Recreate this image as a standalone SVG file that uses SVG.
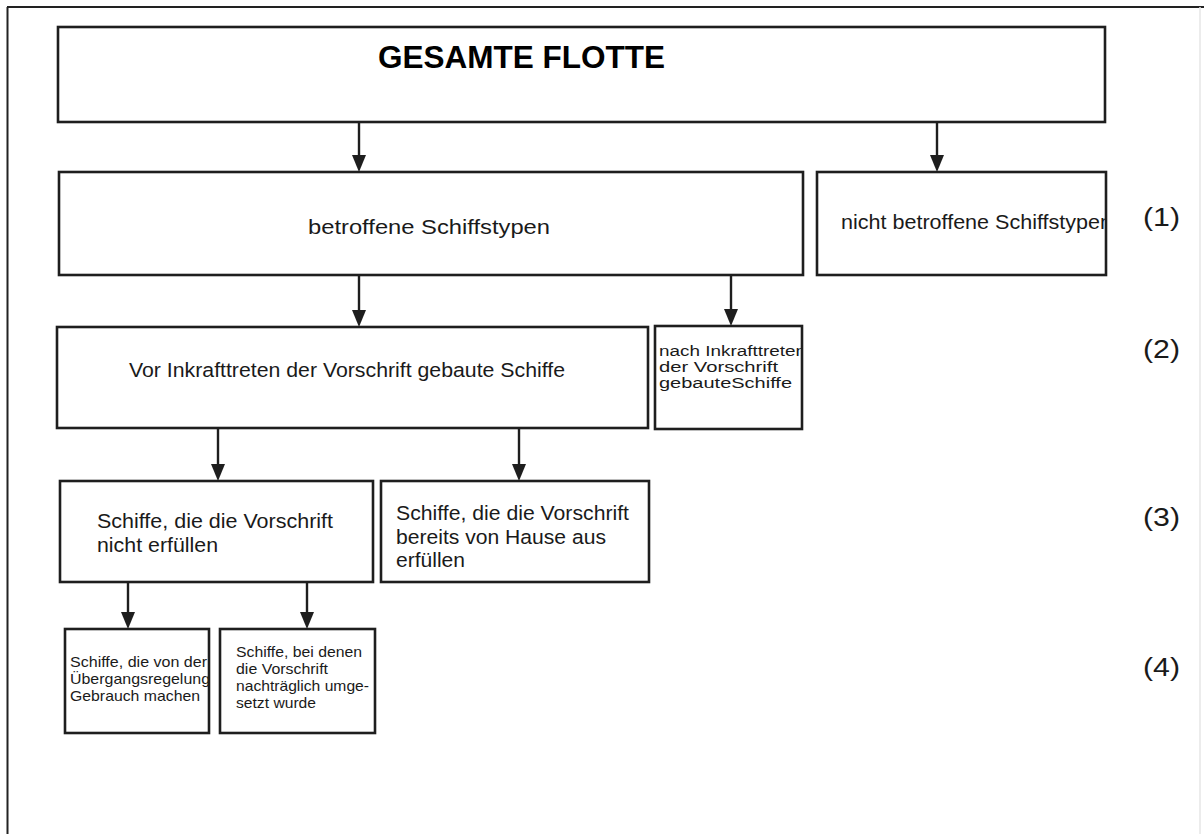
<svg xmlns="http://www.w3.org/2000/svg" width="1204" height="834" viewBox="0 0 1204 834">
<style>
.box{fill:#fff;stroke:#1e1e1e;stroke-width:2.6}
.t{font-family:"Liberation Sans",Arial,sans-serif;fill:#1a1a1a}
.b{font-weight:bold;fill:#000}
.conn line{stroke:#1e1e1e;stroke-width:2.4}
.conn polygon{fill:#1e1e1e}
.frame{stroke:#222;stroke-width:2;fill:none}
</style>
<defs>
<clipPath id="c1"><rect x="817" y="172" width="288" height="103"/></clipPath>
<clipPath id="c2"><rect x="655" y="326" width="146" height="103"/></clipPath>
<clipPath id="c3"><rect x="65" y="629" width="143" height="104"/></clipPath>
</defs>
<rect width="1204" height="834" fill="#fff"/>
<g id="frame">
<line class="frame" x1="7" y1="7" x2="1204" y2="7"/>
<line class="frame" x1="7.5" y1="7" x2="7.5" y2="834"/>
<line x1="1200" y1="7" x2="1200" y2="834" stroke="#e6e6e6" stroke-width="1.5"/>
</g>
<g id="n-gesamt">
<rect class="box" x="58" y="27" width="1047" height="95"/>
<text class="t b" x="378" y="68" font-size="32" textLength="287" lengthAdjust="spacingAndGlyphs">GESAMTE FLOTTE</text>
</g>
<g id="n-betroffen">
<rect class="box" x="59" y="172" width="744" height="103"/>
<text class="t" x="308" y="234" font-size="21" textLength="242" lengthAdjust="spacingAndGlyphs">betroffene Schiffstypen</text>
</g>
<g id="n-nichtbetroffen">
<rect class="box" x="817" y="172" width="289" height="103"/>
<text class="t" x="841" y="229" font-size="20" textLength="271" lengthAdjust="spacingAndGlyphs" clip-path="url(#c1)">nicht betroffene Schiffstypen</text>
</g>
<g id="n-vor">
<rect class="box" x="57" y="327" width="591" height="101"/>
<text class="t" x="129" y="377" font-size="20.5" textLength="436" lengthAdjust="spacingAndGlyphs">Vor Inkrafttreten der Vorschrift gebaute Schiffe</text>
</g>
<g id="n-nach">
<rect class="box" x="655" y="326" width="147" height="103"/>
<g clip-path="url(#c2)">
<text class="t" x="659" y="356" font-size="15.5" textLength="147" lengthAdjust="spacingAndGlyphs">nach Inkrafttreten</text>
<text class="t" x="659" y="372" font-size="15.5" textLength="119" lengthAdjust="spacingAndGlyphs">der Vorschrift</text>
<text class="t" x="659" y="388" font-size="15.5" textLength="133" lengthAdjust="spacingAndGlyphs">gebauteSchiffe</text>
</g>
</g>
<g id="n-nichterf">
<rect class="box" x="60" y="481" width="313" height="101"/>
<text class="t" x="97" y="528" font-size="20.5" textLength="236" lengthAdjust="spacingAndGlyphs">Schiffe, die die Vorschrift</text>
<text class="t" x="97" y="552" font-size="20.5" textLength="121" lengthAdjust="spacingAndGlyphs">nicht erfüllen</text>
</g>
<g id="n-bereits">
<rect class="box" x="381" y="481" width="268" height="101"/>
<text class="t" x="396" y="520" font-size="20.5" textLength="233" lengthAdjust="spacingAndGlyphs">Schiffe, die die Vorschrift</text>
<text class="t" x="396" y="544" font-size="20.5" textLength="210" lengthAdjust="spacingAndGlyphs">bereits von Hause aus</text>
<text class="t" x="396" y="567" font-size="20.5" textLength="69" lengthAdjust="spacingAndGlyphs">erfüllen</text>
</g>
<g id="n-uebergang">
<rect class="box" x="65" y="629" width="144" height="104"/>
<g clip-path="url(#c3)">
<text class="t" x="70" y="667" font-size="15" textLength="137" lengthAdjust="spacingAndGlyphs">Schiffe, die von der</text>
<text class="t" x="70" y="684" font-size="15" textLength="140" lengthAdjust="spacingAndGlyphs">Übergangsregelung</text>
<text class="t" x="70" y="701" font-size="15" textLength="130" lengthAdjust="spacingAndGlyphs">Gebrauch machen</text>
</g>
</g>
<g id="n-nachtraeglich">
<rect class="box" x="220" y="629" width="155" height="104"/>
<text class="t" x="236" y="657" font-size="15" textLength="126" lengthAdjust="spacingAndGlyphs">Schiffe, bei denen</text>
<text class="t" x="236" y="674" font-size="15" textLength="92" lengthAdjust="spacingAndGlyphs">die Vorschrift</text>
<text class="t" x="236" y="691" font-size="15" textLength="133" lengthAdjust="spacingAndGlyphs">nachträglich umge-</text>
<text class="t" x="236" y="708" font-size="15" textLength="80" lengthAdjust="spacingAndGlyphs">setzt wurde</text>
</g>
<g id="labels">
<text class="t" x="1143" y="226" font-size="25" textLength="37" lengthAdjust="spacingAndGlyphs">(1)</text>
<text class="t" x="1143" y="358" font-size="25" textLength="37" lengthAdjust="spacingAndGlyphs">(2)</text>
<text class="t" x="1143" y="526" font-size="25" textLength="37" lengthAdjust="spacingAndGlyphs">(3)</text>
<text class="t" x="1143" y="676" font-size="25" textLength="37" lengthAdjust="spacingAndGlyphs">(4)</text>
</g>
<g id="connectors" class="conn">
<line x1="359" y1="122" x2="359" y2="158"/><polygon points="352,155 366,155 359,172"/>
<line x1="937" y1="122" x2="937" y2="158"/><polygon points="930,155 944,155 937,172"/>
<line x1="359" y1="275" x2="359" y2="313"/><polygon points="352,310 366,310 359,327"/>
<line x1="731" y1="275" x2="731" y2="312"/><polygon points="724,309 738,309 731,326"/>
<line x1="218" y1="428" x2="218" y2="467"/><polygon points="211,464 225,464 218,481"/>
<line x1="519" y1="428" x2="519" y2="467"/><polygon points="512,464 526,464 519,481"/>
<line x1="128" y1="582" x2="128" y2="615"/><polygon points="121,612 135,612 128,629"/>
<line x1="307" y1="582" x2="307" y2="615"/><polygon points="300,612 314,612 307,629"/>
</g>
</svg>
